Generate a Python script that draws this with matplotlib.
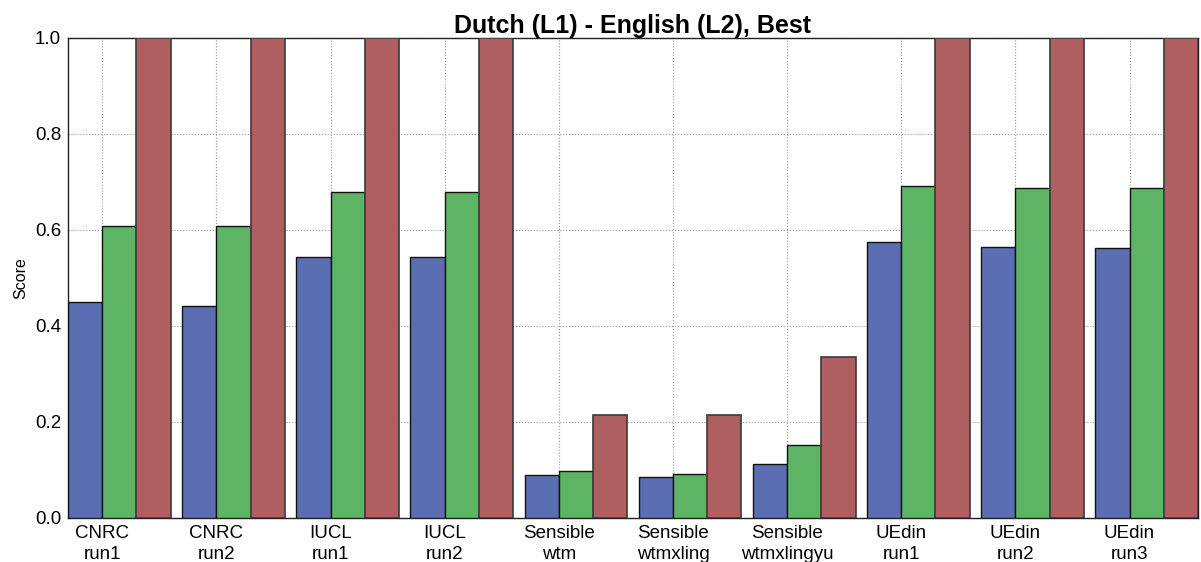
import matplotlib
matplotlib.use("Agg")
import matplotlib.pyplot as plt
import numpy as np

plt.rcParams['font.family'] = ['Liberation Sans', 'DejaVu Sans']

categories = ["CNRC\nrun1", "CNRC\nrun2", "IUCL\nrun1", "IUCL\nrun2", "Sensible\nwtm",
              "Sensible\nwtmxling", "Sensible\nwtmxlingyu", "UEdin\nrun1", "UEdin\nrun2", "UEdin\nrun3"]
series_blue = [0.450, 0.442, 0.543, 0.543, 0.090, 0.085, 0.113, 0.575, 0.565, 0.563]
series_green = [0.609, 0.609, 0.679, 0.679, 0.098, 0.092, 0.152, 0.692, 0.687, 0.687]
series_red = [1.0, 1.0, 1.0, 1.0, 0.214, 0.214, 0.335, 1.0, 1.0, 1.0]
yticks = [0.0, 0.2, 0.4, 0.6, 0.8, 1.0]

fig = plt.figure(figsize=(12.01, 5.62), dpi=100)
ax = fig.add_axes([68/1201, 1 - 518/562, (1198-68)/1201, (518-38)/562])

x = np.arange(len(categories))
w = 0.3
ax.bar(x, series_blue, w, align='edge', color='#5C6EB2', edgecolor='#111111', linewidth=1.0, zorder=3)
ax.bar(x + w, series_green, w, align='edge', color='#5DB465', edgecolor='#111111', linewidth=1.0, zorder=3)
ax.bar(x + 2*w, series_red, w, align='edge', color='#B05F60', edgecolor='#3a3a3a', linewidth=1.2, zorder=3)

ax.set_xlim(0, 9.9)
ax.set_ylim(0, 1.0)
ax.set_xticks(x + w)
ax.set_xticklabels(categories, fontsize=13.5, linespacing=1.35)
ax.set_yticks(yticks)
ax.set_yticklabels([f"{v:.1f}" for v in yticks], fontsize=13.5)
ax.tick_params(axis='x', length=0, pad=5)
ax.tick_params(axis='y', length=0, pad=5)
ax.set_ylabel("Score", fontsize=11.5, labelpad=5)
ax.set_title("Dutch (L1) - English (L2), Best", fontsize=18, fontweight='bold', pad=2)
ax.grid(True, linestyle=':', color='#999999', linewidth=0.8, zorder=0)
for s in ax.spines.values():
    s.set_color('#222222')
    s.set_linewidth(1.0)

fig.savefig("out.png", dpi=100)
